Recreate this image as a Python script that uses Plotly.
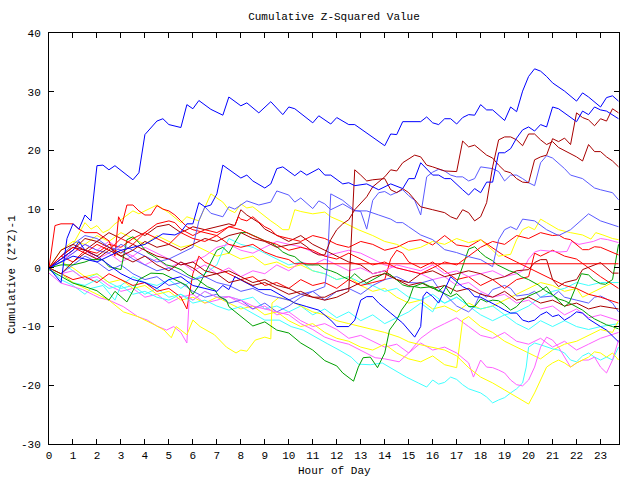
import plotly.graph_objects as go

# ---------------- data: (hour, cumulative value) per series ----------------
HOURS_TICKS = list(range(24))
Y_TICKS = [-30, -20, -10, 0, 10, 20, 30, 40]

B1 = [(0,0),(0.5,-2.5),(0.75,5),(1.0,7.5),(1.25,6.6),(1.5,9),(1.75,8),(2.0,17.4),(2.25,17.5),(2.5,16.7),(2.75,17.4),(3.5,15),(3.75,16.2),(4.0,22.7),(4.5,25),(4.75,25.4),(5.0,24.4),(5.5,23.9),(5.75,27.8),(6.0,27.1),(6.25,28.5),(6.75,27),(7.25,26),(7.5,29.1),(8.0,27.6),(8.25,28.1),(8.75,26.4),(9.25,28.3),(9.75,26.1),(10.0,27.4),(10.25,27.1),(11.0,24.7),(11.25,25.9),(11.75,24.5),(12.0,25.6),(12.5,24.4),(12.75,24.4),(13.25,23),(13.5,22.3),(14.0,20.8),(14.25,22.8),(14.5,22.7),(14.75,24.9),(15.5,24.9),(15.75,25.7),(16.0,24.7),(16.25,24.4),(16.5,25.4),(16.75,25.4),(17.0,24.5),(17.25,25.6),(17.5,26.1),(17.75,26),(18.0,27.8),(18.25,26.9),(18.5,26.9),(19.0,25.1),(19.25,27.4),(19.5,26.6),(19.75,30.1),(20.0,32.6),(20.25,33.9),(20.5,33.5),(20.75,32.6),(21.0,31.5),(21.25,30.8),(21.5,30.1),(22.0,28.4),(22.25,29.8),(22.5,29.1),(23.0,27.4),(23.25,29),(23.5,29.3),(23.75,28.4)]
B2 = [(0,0),(1,2),(2,1),(3,3),(4,4),(4.75,5.8),(5.25,5.6),(5.5,6.1),(5.75,7.5),(6.0,7.5),(6.25,11.1),(6.5,10.4),(6.75,10.7),(7.0,12.6),(7.25,17.5),(7.5,16.8),(8.0,15.3),(8.25,15.8),(8.5,14.8),(9.0,13.6),(9.25,14.3),(9.5,16.9),(9.75,17.2),(10.25,15.7),(10.5,16.5),(10.75,15.8),(11.25,16.9),(11.5,15.8),(11.75,15.8),(12.25,14.3),(12.5,14.5),(12.75,14),(13.0,14.2),(13.25,14.3),(13.75,13.3),(14.25,14.3),(14.75,13.5),(15.0,15.2),(15.25,15.2),(15.5,17.9),(16.0,15.8),(16.25,15.8),(16.5,15.2),(16.75,15.2),(17.25,13.3),(17.5,12.4),(17.75,13.5),(18.0,12.8),(18.25,14.6),(18.5,14.6),(18.75,19.6),(19.0,19.6),(19.25,20.3),(19.5,22.1),(19.75,23.5),(20.0,24),(20.25,23.3),(20.5,24.4),(20.75,24),(21.0,27.4),(21.25,27.1),(21.5,26.4),(22.0,24.9),(22.25,26.7),(22.5,26.1),(22.75,27.4),(23.0,26.9),(23.25,26.7),(23.5,26.1),(23.75,25.4)]
B3 = [(0,0),(0.5,1.5),(1,3),(1.25,4.5),(1.5,3),(2,2),(2.5,0.5),(3,-1),(3.5,-2),(4,-2.5),(4.5,-3.5),(5,-2),(5.5,-1.5),(6,-3),(6.5,-3.5),(7,-4),(7.25,-3),(7.5,-3.7),(7.75,-1.5),(8.25,-2.6),(8.75,-3.7),(9.25,-3.7),(9.75,-4.9),(10.25,-6),(10.75,-6.6),(11.25,-7.2),(11.75,-8.9),(12,-10),(12.5,-10),(12.75,-8.9),(13,-5.5),(13.25,-4.9),(13.5,-4.9),(13.75,-6),(14.25,-7.7),(14.75,-9.4),(15.25,-11.8),(15.5,-10),(15.6,-4.9),(15.75,-4.1),(16,-4.9),(16.25,-6),(16.5,-3.7),(16.75,-1.5),(17,-2.4),(17.25,-3.2),(17.5,-3.7),(17.75,-4.9),(18,-5),(18.25,-5.5),(18.5,-6),(18.75,-6.6),(19,-7.2),(19.25,-7.7),(19.5,-7.7),(19.75,-8.9),(20,-9.2),(20.25,-8.9),(20.5,-8),(20.75,-7.5),(21,-8.3),(21.25,-8),(21.5,-8.9),(21.75,-8.3),(22,-7.5),(22.25,-7.7),(22.5,-8.7),(22.75,-9.4),(23,-10),(23.25,-10.6),(23.5,-11.6),(23.75,-12.6)]
LB_A = [(0,0),(0.5,2),(1,4),(1.5,5.5),(2,5),(2.5,3.5),(3,3),(3.5,1.5),(4,0.5),(4.5,-0.5),(5,0),(5.5,-1),(6,-2),(6.5,-1.5),(7,-2.5),(7.5,-3),(8,-4),(8.5,-3.5),(9,-4.5),(9.5,-5),(10,-5.5),(10.5,-4.5),(11,-4),(11.5,-3.2),(11.6,0),(11.75,12.6),(12.25,11.5),(12.75,9.8),(13.0,9.6),(13.25,6.6),(13.5,11.5),(13.75,12.8),(14.0,13),(14.25,12.4),(14.5,12.8),(14.75,13.3),(15.0,12.3),(15.25,11.5),(15.5,9),(15.75,15.5),(16,16.3),(16.25,16.8),(16.5,16.5),(16.75,15.8),(17,15.5),(17.25,15.5),(17.5,14.8),(17.75,15.2),(18,17.2),(18.5,16.9),(18.75,16.4),(19,14.8),(19.25,15.8),(19.5,15.8),(19.75,15.2),(20,14.5),(20.25,14),(20.5,17.9),(20.75,19.1),(21,18.7),(21.5,16.9),(21.75,15.8),(22.25,15.2),(22.75,13.6),(23,13.3),(23.5,12.8),(23.75,11.6)]
LB_B = [(0,0),(0.5,1),(1,2.5),(1.5,4),(2,3),(2.5,2.5),(3,4),(3.5,3),(4,2),(4.5,1),(5,1.5),(5.5,2.5),(6,3.5),(6.25,8),(6.5,10.4),(6.75,9.3),(7.25,8.7),(7.5,10.4),(7.75,10),(8.25,11.4),(8.75,10.7),(9.25,11.2),(9.5,13.1),(10,12.4),(10.25,11.2),(10.5,11.9),(11,10.1),(11.25,11.4),(11.5,10.9),(11.75,9.9),(12.25,10.9),(12.75,9.7),(13.25,9.7),(13.75,9),(14.25,8.3),(14.5,7.7),(14.75,7.7),(15,7),(15.5,5.6),(16,4.8),(16.5,3.1),(17,2.6),(17.5,1.9),(18,1.4),(18.5,0.2),(18.75,4.8),(19,6.5),(19.25,7),(19.5,6.5),(19.75,8.3),(20.25,8),(20.75,6.5),(21.25,5.5),(21.75,6.5),(22.25,8.3),(22.5,9.2),(23,8),(23.75,7)]
LB_C = [(0,0),(0.5,-1),(1,0.5),(1.5,2),(2,1),(2.5,-0.5),(3,0.5),(3.5,-1),(4,-2),(4.5,-1.5),(5,-3),(5.5,-2.5),(6,-4),(6.5,-5),(7,-4.5),(7.5,-6),(8,-5.5),(8.5,-7),(9,-6),(9.5,-7.5),(10,-6.5),(10.5,-5),(11,-4),(11.5,-5.5),(12,-4),(12.5,-3.5),(13,-4.5),(13.5,-3),(14,-2),(14.5,-1.5),(15,-2.5),(15.5,-2.6),(16,-2),(16.25,-3.5),(16.5,-4.5),(17,-6.5),(17.5,-7.5),(17.75,-6.5),(18,-4.3),(18.25,-5),(18.5,-3.7),(19,-3),(19.25,-3.5),(19.5,-4.8),(20,-4.5),(20.25,-4),(20.5,-5),(21,-4.8),(21.25,-4),(21.5,-5),(22,-5.5),(22.5,-6),(22.75,-5),(23,-4.8),(23.25,-5.3),(23.5,-6),(23.75,-7.5)]
DR_A = [(0,0),(0.5,3),(1,4),(1.5,3),(2,2),(2.5,3.5),(3,2),(3.5,3),(4,4.5),(4.5,3.5),(5,4),(5.5,3),(6,4),(6.5,5),(7,4.5),(7.5,5.5),(8,6),(8.5,5),(9,4.5),(9.5,3.5),(10,3.9),(10.5,4.3),(10.75,3.6),(11,2.7),(11.25,2.2),(11.5,2.2),(11.75,4.8),(12,6.5),(12.25,7.5),(12.5,8.2),(12.75,9.9),(13.25,12.1),(13.5,13.8),(14,15.5),(14.25,16.7),(14.5,16.5),(14.75,17.9),(15,18.6),(15.25,19.2),(15.5,18.9),(15.75,17.5),(16,17.2),(16.5,16.5),(17,16.4),(17.25,21.6),(17.5,20.6),(17.75,20.9),(18.25,19.2),(18.5,18.7),(18.75,17.5),(19,16.5),(19.25,16.2),(19.5,15.2),(19.75,14.6),(20,14.5),(20.25,18.4),(20.5,18.9),(20.75,19.2),(21,22),(21.25,21.5),(21.5,22.1),(21.75,21),(22,26.4),(22.25,25.6),(22.5,25.2),(22.75,24.2),(23,25.4),(23.25,25),(23.5,27.1),(23.75,26.4)]
DR_B = [(0,0),(0.5,-1),(1,1),(1.5,2.5),(2,1.5),(2.5,3),(3,2),(3.5,1),(4,2),(4.5,0.5),(5,-0.5),(5.5,1),(6,0),(6.5,-1.5),(7,-1),(7.5,-2.5),(8,-2),(8.5,-3),(9,-2.5),(9.5,-3.5),(10,-4.5),(10.5,-4),(11,-5),(11.5,-5.5),(12,-5),(12.5,-4),(12.75,16.7),(13,15.8),(13.25,14.8),(13.5,15),(14,15.2),(14.25,13.3),(14.5,12.8),(14.75,13.5),(15,12.8),(15.25,11.6),(15.5,10.4),(16,9.9),(16.5,9.4),(16.75,8.7),(17,8.3),(17.25,9.9),(17.5,9.4),(17.75,8),(18,8.7),(18.25,11.1),(18.5,17.2),(18.75,21.8),(19,22.3),(19.25,22.3),(19.5,21.8),(19.75,20.8),(20,22.8),(20.25,22.8),(20.5,21.8),(20.75,21),(21,21.5),(21.25,20.5),(21.5,20),(21.75,19.5),(22,18.9),(22.25,18.2),(22.5,21),(22.75,19.8),(23,19.8),(23.25,18.9),(23.5,18.2),(23.75,17.2)]
DR_D = [(0,0),(0.5,2),(1,3.5),(1.5,3),(2,4.5),(2.5,3.5),(3,2.5),(3.5,4),(4,3),(4.5,2),(5,1.5),(5.5,0.5),(6,1),(6.5,-0.5),(7,-1),(7.5,-0.5),(8,-1.5),(8.5,-2.5),(9,-2),(9.5,-3),(10,-3.5),(10.5,-4.5),(11,-5),(11.5,-5),(12,-4),(12.5,-3.5),(13,-2.5),(13.5,-1.5),(14,-1),(14.5,-2),(15,-2.5),(15.5,-1),(16,-0.5),(16.5,-1.5),(17,-1),(17.5,-0.5),(18,-1),(18.5,-2),(19,-1.5),(19.5,-0.5),(20,-0.3),(20.25,0.9),(20.5,1.4),(20.75,1.4),(21,-2),(21.25,-3.2),(21.5,-2.5),(22,-2),(22.25,-0.3),(22.75,0.5),(23,0.9),(23.5,-0.9),(23.75,-0.9)]
DR_F = [(0,0),(0.5,1.5),(1,3),(1.5,5),(2,4.5),(2.5,6),(3,5),(3.5,6.5),(4,5.5),(4.5,7),(5,7.4),(5.5,6),(6,7),(6.5,6.5),(7,7),(7.5,7.5),(7.75,7.2),(8,9.9),(8.25,9),(8.5,8.3),(8.75,7.7),(9,6.6),(9.5,5.5),(10,4.5),(10.5,5.5),(11,4),(11.5,3),(12,2),(12.5,1),(13,0.5),(13.5,-1),(14,-0.5),(14.5,-2),(15,-3),(15.5,-2.5),(16,-3.5),(16.5,-3),(17,-4),(17.5,-3.5),(18,-4.5),(18.5,-5),(19,-4),(19.5,-5.5),(20,-5),(20.5,-6),(21,-5.5),(21.5,-6.5),(22,-6),(22.5,-7),(23,-6.5),(23.75,-7)]
R_FLAT = [(0,0),(0.5,2),(1,3.5),(1.5,2.5),(2,4),(2.5,3),(3,5),(3.5,4),(4,6),(4.5,5),(5,4),(5.5,6),(6,5),(6.5,4.5),(7,5.5),(7.5,4),(8,3.5),(8.5,4),(9,2.7),(9.5,1.9),(10,1.4),(10.25,0.7),(23.75,0.7)]
R_HIGH = [(0,0),(0.25,7.2),(0.5,7.5),(1,7.5),(1.25,6.6),(1.5,6),(2,6),(2.5,4.6),(2.75,2),(2.9,8.7),(3.05,7.5),(3.25,10.7),(3.5,10.7),(3.75,9.7),(4,9),(4.25,9),(4.5,10.6),(4.75,10),(5,9.7),(5.25,9),(5.5,8),(5.75,7),(6,6.5),(6.5,6),(7,5.5),(7.5,7),(8,6.5),(8.5,5.5),(9,4.6),(9.5,4),(10,3),(10.5,3.5),(11,3),(11.5,2),(12,1.5),(12.5,2.5),(13,1.5),(13.5,0.5),(14,1),(14.5,0),(15,-0.5),(15.5,-1),(16,0),(16.5,1),(17,0.5),(17.5,2),(18,3.5),(18.5,4.5),(19,4),(19.5,5.5),(20,5),(20.5,6),(21,5.5),(21.25,5.6),(21.5,5),(21.75,4.8),(22,3.9),(22.25,3.1),(22.5,3.1),(22.75,3.6),(23,3.5),(23.5,2.6),(23.75,2.2)]
R_3 = [(0,0),(0.5,2),(1,1),(1.5,3),(2,2.5),(2.5,4),(3,3.5),(3.5,5),(4,6),(4.5,7.5),(5,8),(5.25,7.7),(5.5,6.6),(6,5.5),(6.5,6.5),(7,6),(7.5,7),(7.75,7.2),(7.9,8.7),(8,8.3),(8.25,8),(8.5,8.7),(8.75,7.8),(9,7),(9.25,6.5),(9.5,5.5),(10,5),(10.5,4.5),(11,5.5),(11.5,5),(12,4),(12.5,3.5),(13,4.5),(13.5,4),(14,3),(14.5,3.5),(15,4.5),(15.5,4.8),(16,3.9),(16.5,5.5),(17,3.9),(17.5,3.6),(18,4.8),(18.5,3.4),(19,2),(19.5,1),(20,0),(20.5,-1),(21,-2),(21.5,-3),(22,-3.5),(22.5,-4.5),(23,-5),(23.75,-6)]
R_4 = [(0,0),(0.5,-1),(1,-2),(1.5,-1.5),(2,-2.5),(2.5,-1),(3,-2),(3.5,-3),(4,-2.5),(4.5,-4),(5,-3.5),(5.5,-5),(5.75,-7),(6,-1),(6.25,2),(6.5,1),(7,0),(7.5,-1),(8,-2),(8.5,-1.5),(9,-3),(9.5,-2.5),(10,-3.5),(10.5,-2),(11,-3),(11.5,-2.5),(12,-3.5),(12.5,-2),(13,-3),(13.5,-2.5),(14,-2),(14.25,1.5),(14.5,3),(14.75,2.5),(15,1),(15.5,0),(16,1),(16.5,-0.5),(17,-2),(17.5,-1.5),(18,-3),(18.5,-2),(19,-3.5),(19.5,-2),(20,-1.5),(20.25,2.5),(20.5,2),(21,3),(21.5,2),(22,1.5),(22.5,0),(23,-1.5),(23.75,-3.5)]
Y_A = [(0,0),(0.5,2),(1,4),(1.5,7.7),(1.75,6.6),(2,7.2),(2.25,6),(2.5,6.5),(2.75,7.5),(3,8.2),(3.5,9.7),(3.75,9.2),(4.5,10.7),(5,9.4),(5.5,7.7),(5.75,8.7),(6.25,8),(6.75,12.6),(7.25,11.2),(7.5,9.9),(7.75,9.4),(8,10.9),(8.25,10.2),(8.5,10.4),(9,8.7),(9.25,8),(9.5,7.3),(9.75,6.5),(10,6.5),(10.25,9.9),(10.5,9.6),(11,9.2),(11.5,9.5),(11.75,8.7),(12.25,7.8),(12.5,7.3),(12.9,6.5),(13.5,5.5),(14,4.5),(14.5,4),(15,3),(15.5,3.5),(16,4.5),(16.5,4),(17,5),(17.5,4.3),(18,4.8),(18.5,3),(18.75,2),(19.25,2.3),(19.5,4.8),(19.75,6.5),(20,7),(20.25,6.5),(20.5,8.3),(20.75,7.7),(21.25,6.5),(21.75,6),(22.25,5.6),(22.6,4.9),(22.8,6),(23.1,5.6),(23.5,5),(23.75,4.8)]
Y_B = [(0,0),(0.5,-1),(1,-2.5),(1.5,-3.5),(2,-4.5),(2.5,-5.5),(3.1,-7.5),(3.7,-8.3),(4.4,-9.7),(4.8,-10.6),(5.1,-11.9),(5.3,-10),(5.5,-10.6),(5.75,-11.4),(6,-8.9),(6.3,-10),(6.9,-11.4),(7.4,-13.5),(7.8,-14.5),(8,-14),(8.25,-14.2),(8.6,-12.3),(9,-11.8),(9.25,-12.1),(9.3,-6),(9.6,-5),(10,-5.5),(10.5,-6.5),(11,-7.5),(11.5,-8),(12,-9),(12.5,-9.5),(13,-10),(13.6,-10.6),(14,-11),(14.6,-11.8),(15,-12.6),(15.5,-13.1),(15.9,-13.5),(16.5,-14),(17,-15),(17.5,-17),(18,-18.6),(18.5,-19.6),(19,-20.8),(19.5,-22),(20,-23.2),(20.25,-21.3),(20.5,-19.1),(20.75,-16.9),(21,-16.2),(21.25,-15.7),(21.5,-16.2),(21.75,-16.9),(22,-16.2),(22.25,-15.7),(22.5,-15.2),(22.75,-14.3),(23,-14.5),(23.25,-15.2),(23.5,-14.5),(23.75,-15.7)]
Y_C = [(0,0),(0.5,1),(1,0),(1.5,-1.5),(2,-1),(2.5,-2.5),(3,-2),(3.5,-3.5),(4,-3),(4.5,-4.5),(5,-4),(5.5,-5.5),(6,-5),(6.5,-6),(7,-5),(7.5,-6),(8,-7),(8.5,-6.5),(9,-8),(9.5,-7.5),(10,-9),(10.5,-10),(11,-9.5),(11.5,-11),(12,-12),(12.5,-12.5),(13,-13.5),(13.5,-14),(14,-13),(14.5,-14.5),(15,-15.5),(15.5,-16),(16,-15),(16.5,-16.5),(17,-17),(17.25,-8.9),(17.5,-8.3),(18,-10),(18.5,-11),(19,-12.5),(19.5,-13.5),(20,-14.5),(20.5,-15.5),(21,-14),(21.5,-13),(22,-12.5),(22.5,-11.5),(23,-10.5),(23.5,-11),(23.75,-9)]
Y_D = [(0,0),(0.5,3),(1,4.5),(1.5,4),(2,5.5),(2.5,4.5),(3,6),(3.5,5),(4,4),(4.5,5.5),(5,4.5),(5.5,3.5),(6,4),(6.5,3),(7,2),(7.5,2.5),(8,1.5),(8.5,2),(9,0.5),(9.5,1),(10,0),(10.5,0.5),(11,-0.5),(11.5,-1),(12,-2),(12.5,-1.5),(13,-3),(13.5,-4),(14,-3.5),(14.5,-5),(15,-6),(15.5,-5.5),(16,-7),(16.5,-6.5),(17,-7.5),(17.5,-6),(18,-7),(18.5,-6.5),(19,-5.5),(19.5,-4.5),(20,-3.5),(20.5,-2.5),(21,-3),(21.5,-4),(22,-3.5),(22.25,-5),(22.5,-4.5),(23,-3.5),(23.5,-2.5),(23.75,-2.5)]
G_LOW = [(0,0),(0.5,0.5),(1,0.5),(1.5,1),(1.75,1.4),(2.25,1.4),(2.5,0.2),(3,-0.3),(3.25,4.8),(3.5,5.3),(3.75,4.3),(4.1,2.6),(4.4,1.9),(4.6,1.4),(4.9,0.5),(5.2,0.2),(5.5,-0.3),(5.8,-1.2),(6.2,-2),(6.6,-3.2),(6.9,-3.7),(7.1,-4.9),(7.4,-5.5),(7.5,-6.6),(8,-8.3),(8.5,-9.9),(9,-9.2),(9.5,-10.6),(10,-11.1),(10.5,-12.8),(11,-14),(11.5,-15.8),(12,-16.7),(12.25,-17.9),(12.7,-19.3),(12.9,-16.9),(13.1,-15.3),(13.4,-15.2),(13.7,-17),(14,-14.5),(14.2,-10.6),(14.5,-8.9),(14.7,-7.2),(15,-5.5),(15.2,-3.2),(15.6,-2.6),(15.9,-3.2),(16.25,-4),(16.5,-3),(16.75,-4.5),(17,-2.5),(17.1,-1.5),(17.5,3.2),(17.75,3.6),(18,2.6),(18.2,1.9),(18.5,1.2),(18.7,0.5),(19.2,-0.5),(19.5,-0.9),(19.7,-1.5),(20,-2),(20.4,-2.9),(20.7,-3.9),(21,-4.6),(21.5,-6.6),(21.7,-5.9),(22,-2.9),(22.2,-1),(22.5,-1.2),(22.7,-2),(23,-2.7),(23.2,-2.8),(23.5,-2),(23.75,4)]
G_MID = [(0,-0.3),(0.5,-1.5),(1,-2.6),(1.5,-3.2),(2,-3.9),(2.5,-5.5),(2.75,-4),(3.25,-5.8),(3.5,-4),(3.75,-2),(4.25,-0.9),(4.75,-1),(5.25,-2),(5.75,-3),(6,-4.5),(6.25,-3),(6.5,-1),(6.75,1),(7,3),(7.25,3.5),(7.5,2.5),(7.75,4.3),(8,6),(8.25,6),(8.5,5.6),(8.75,5.1),(9,4.6),(9.25,4.3),(9.5,3.6),(9.75,2.7),(10,2.2),(10.25,1.9),(10.5,1),(10.75,0.5),(11.25,0.5),(11.5,-0.2),(11.75,-0.5),(12,-0.9),(12.25,-1.5),(12.5,-2),(12.75,-1),(13,-1.9),(13.25,-2.6),(13.5,-2),(13.75,-1.5),(14,-0.9),(14.25,-1.2),(14.5,-2),(14.75,-2.9),(15,-3.2),(15.25,-3.2),(15.5,-3.4),(16,-3.2),(16.25,-3.9),(16.5,-4.4),(16.75,-4.9),(17,-4.4),(17.25,-5.3),(17.5,-6.6),(17.75,-6.6),(18,-5.3),(18.25,-5.8),(18.5,-5.5),(18.75,-5.6),(19,-6.3),(19.25,-7.2),(19.5,-6.6),(19.75,-5.5),(20,-4.8),(20.25,-4.4),(20.5,-3.9),(20.75,-3.2),(21,-4.6),(21.25,-5.3),(21.5,-5.6),(21.75,-6.1),(22,-6.6),(22.25,-7.2),(22.5,-8),(22.75,-8.7),(23,-9.2),(23.25,-9.7),(23.5,-10),(23.75,-10.4)]
C_LOW = [(0,0),(0.5,-1),(1,-2.5),(1.5,-3),(2,-2),(2.5,-3.5),(3,-3),(3.5,-4.5),(4,-4),(4.5,-5),(5,-5.5),(5.5,-4.5),(6,-6),(6.5,-5.5),(7,-6.5),(7.5,-7.2),(8,-6.6),(8.5,-7.7),(9,-8.9),(9.6,-8.9),(10.1,-10),(10.6,-10.6),(11.1,-11.8),(11.6,-12.9),(12.1,-14),(12.6,-15.2),(12.9,-16.4),(13.4,-16.5),(13.9,-16.2),(14.4,-17.4),(14.9,-18.6),(15.4,-19.6),(15.75,-20.3),(16,-19.1),(16.25,-19.8),(16.5,-19.5),(16.75,-18.6),(17,-19),(17.25,-19.9),(17.5,-20.6),(17.75,-21),(18,-21.3),(18.25,-22),(18.5,-23),(18.75,-22.5),(19,-22.1),(19.25,-21.3),(19.5,-20.6),(19.75,-19.6),(19.9,-16.9),(20,-13.5),(20.25,-12.8),(20.5,-13.1),(20.75,-13.5),(21,-13.8),(21.25,-14),(21.5,-14.5),(21.75,-15.7),(22,-16),(22.25,-15),(22.5,-14.5),(22.75,-15.2),(23,-15.7),(23.25,-15.2),(23.5,-15.7),(23.75,-13.5)]
C_2 = [(0,0),(0.5,-2),(1,-3),(1.5,-4.5),(1.75,-3.5),(2.25,-3),(2.75,-5.5),(3,-3),(3.5,-1.5),(4,-2.5),(4.5,-3),(5,-2),(5.5,-3.5),(6,-2),(6.5,-1),(7,0.5),(7.25,3),(7.5,5),(8,4),(8.5,3.5),(9,2.5),(9.5,1.5),(10,0.5),(10.5,1),(11,-0.5),(11.5,-1),(12,-2),(12.5,-1.5),(13,-2.5),(13.5,-3),(14,-4),(14.5,-3.5),(15,-5),(15.5,-5.5),(16,-4.5),(16.5,-6),(17,-5),(17.5,-6.5),(18,-7),(18.5,-6.5),(19,-8),(19.5,-7.5),(20,-6.5),(20.5,-5),(21,-4),(21.5,-3.5),(22,-2.5),(22.5,-3),(23,-2.5),(23.75,-2.5)]
C_3 = [(0,0),(0.5,1),(1,-0.5),(1.5,-2),(2,-1),(2.5,-2.5),(3,-3.5),(3.5,-3),(4,-4.5),(4.5,-3.5),(5,-5),(5.5,-4.5),(6,-5.5),(6.5,-4),(7,-5),(7.5,-4.9),(8,-5.5),(8.5,-5),(9,-7),(9.5,-6.5),(10,-7.5),(10.5,-6.5),(11,-8),(11.5,-7),(12,-8.5),(12.5,-7.5),(13,-9),(13.5,-8),(14,-9.5),(14.5,-8.5),(15,-7.5),(15.5,-6),(16,-7.5),(16.25,-5.5),(16.5,-6),(17,-5),(17.5,-6.5),(18,-8),(18.5,-9),(19,-8),(19.5,-9.5),(20,-10.5),(20.5,-9),(21,-10),(21.5,-9),(22,-10),(22.5,-10.5),(23,-10),(23.75,-9.5)]
M_A = [(0,-0.9),(0.5,-2.6),(1,-3.2),(1.4,-3.7),(1.85,-4.6),(2.1,-5.1),(2.5,-5.5),(3.1,-6.6),(3.7,-8.3),(4.1,-8.9),(4.5,-9.9),(4.9,-10.6),(5.2,-10),(5.5,-11),(5.75,-12.8),(5.85,-5),(6,-5.5),(6.5,-4),(7,-5),(7.5,-4.9),(8,-5.5),(8.5,-6.5),(9,-7),(9.5,-7.5),(10,-8),(10.5,-9.5),(11,-10.5),(11.5,-11.8),(12,-12.5),(12.5,-13),(13,-14),(13.6,-15.3),(14,-15.5),(14.6,-16),(15,-14.5),(15.5,-12.8),(16,-14),(16.5,-13.5),(17,-14.5),(17.5,-16.2),(17.7,-18.6),(18,-15.7),(18.25,-16.9),(18.5,-17),(18.75,-17.4),(19,-17.9),(19.25,-19.1),(19.5,-19.9),(19.75,-20.1),(20,-19.1),(20.25,-16.9),(20.5,-13.5),(20.75,-11.8),(21,-12.3),(21.25,-13.5),(21.5,-15.2),(21.75,-16.9),(22,-16.2),(22.25,-15.7),(22.5,-15.7),(22.75,-15.2),(23,-16.9),(23.25,-17.9),(23.5,-15.7),(23.75,-12.3)]
M_B = [(0,0),(0.5,2),(1,3.5),(1.5,3),(2,1.5),(2.5,2.5),(3,1),(3.5,2),(4,0.5),(4.5,1.5),(5,0),(5.5,1),(6,-0.5),(6.5,0.5),(7,-1),(7.5,0),(8,-1.5),(8.5,-0.5),(9,-1),(9.5,0.5),(10,-0.5),(10.5,1),(11,0.5),(11.5,1.5),(12,0.5),(12.5,-0.5),(13,0),(13.5,-1),(14,-0.5),(14.5,0.5),(15,0),(15.5,-0.5),(16,0.5),(16.5,-1),(17,-0.5),(17.5,-1.5),(18,-1),(18.5,-0.5),(19,-1.5),(19.5,-1),(19.75,-0.5),(20,1.5),(20.25,2.7),(20.5,3),(21,2.8),(21.3,2.7),(21.6,2.8),(21.8,4.5),(22.1,4),(22.4,4.2),(22.7,4.5),(23,5),(23.3,4.8),(23.75,4.3)]
M_C = [(0,0),(0.5,1.5),(1,2.5),(1.5,4),(2,3),(2.5,4.5),(3,3),(3.5,2),(4,3.5),(4.5,2.5),(5,1.5),(5.5,0.5),(6,1),(6.5,2),(7,3.5),(7.5,4),(8,3),(8.5,2.5),(9,3.5),(9.5,4.5),(10,4),(10.5,3.6),(11,2.7),(11.5,2),(12,2.5),(12.5,3),(13,2.5),(13.5,1.5),(14,0.5),(14.5,0),(15,-0.5),(15.5,-1),(16,-2),(16.5,-1.5),(17,-3),(17.5,-2.5),(18,-4),(18.5,-5),(19,-4.5),(19.5,-6),(20,-5.5),(20.5,-7),(21,-6.5),(21.5,-8),(22,-7),(22.5,-8.5),(23,-8),(23.75,-9)]
M_D = [(0,0),(0.5,-1),(1,-0.5),(1.5,-2),(2,-1.5),(2.5,-3),(3,-4),(3.5,-3.5),(4,-5),(4.5,-4.5),(5,-6),(5.5,-5),(6,-4.5),(6.5,-6),(7,-5.5),(7.5,-4.9),(8,-6),(8.5,-7),(9,-6.5),(9.5,-8),(10,-7.5),(10.5,-9),(11,-10),(11.5,-9.5),(12,-10.5),(12.5,-12),(13,-11.5),(13.5,-12.5),(14,-13.5),(14.5,-13),(15,-14.5),(15.5,-12),(16,-10.5),(16.5,-9.5),(17,-8.5),(17.5,-10),(18,-11.5),(18.5,-12),(19,-11),(19.5,-12.5),(20,-13),(20.5,-12),(21,-13.5),(21.5,-12.5),(22,-14),(22.5,-13),(23,-12),(23.75,-11)]

RED, DARKRED, BLUE, LBLUE = "#ff0000", "#a80000", "#0000ff", "#5a5aff"
GREEN, YELLOW, MAGENTA, CYAN = "#00a000", "#ffff00", "#ff60ff", "#40ffff"

SERIES = [
    (YELLOW, Y_D), (CYAN, C_3), (MAGENTA, M_D), (CYAN, C_2), (MAGENTA, M_C),
    (YELLOW, Y_C), (LBLUE, LB_C), (DARKRED, DR_F), (RED, R_4), (MAGENTA, M_B),
    (CYAN, C_LOW), (MAGENTA, M_A), (YELLOW, Y_B), (GREEN, G_MID), (GREEN, G_LOW),
    (RED, R_3), (DARKRED, DR_D), (YELLOW, Y_A), (RED, R_HIGH), (LBLUE, LB_B),
    (LBLUE, LB_A), (BLUE, B3), (DARKRED, DR_B), (DARKRED, DR_A), (RED, R_FLAT),
    (BLUE, B2), (BLUE, B1),
]

fig = go.Figure()
for color, pts in SERIES:
    fig.add_trace(go.Scatter(
        x=[p[0] for p in pts], y=[p[1] for p in pts], mode="lines",
        line=dict(color=color, width=1), showlegend=False, hoverinfo="skip"))

FONT = dict(family="Liberation Mono", size=11, color="black")
axis_common = dict(showline=True, linecolor="black", linewidth=1, mirror="allticks",
                   ticks="inside", ticklen=5, tickcolor="black", showgrid=False,
                   zeroline=False, tickfont=FONT)

fig.update_layout(
    width=640, height=480,
    margin=dict(l=49, r=21, t=33, b=36),
    paper_bgcolor="white", plot_bgcolor="white",
    font=FONT,
    title=dict(text="Cumulative Z-Squared Value", x=0.5, xref="paper",
               y=1 - 16 / 480, yref="container", xanchor="center", yanchor="middle",
               font=FONT),
    xaxis=dict(range=[0, 23.77], tickmode="array", tickvals=HOURS_TICKS,
               ticktext=[str(h) for h in HOURS_TICKS], ticklabelstandoff=1, **axis_common),
    yaxis=dict(range=[-30, 40], tickmode="array", tickvals=Y_TICKS,
               ticktext=[str(v) for v in Y_TICKS], ticklabelstandoff=5, **axis_common),
    annotations=[
        dict(text="Hour of Day", xref="paper", yref="paper", x=0.5, y=(444 - 471) / 411,
             xanchor="center", yanchor="middle", showarrow=False, font=FONT),
        dict(text="Cumulative (Z*Z)-1", xref="paper", yref="paper", x=(12 - 49) / 570,
             y=(444 - 275) / 411, xanchor="center", yanchor="middle", textangle=-90,
             showarrow=False, font=FONT),
    ],
)

fig.write_html("out.html")
